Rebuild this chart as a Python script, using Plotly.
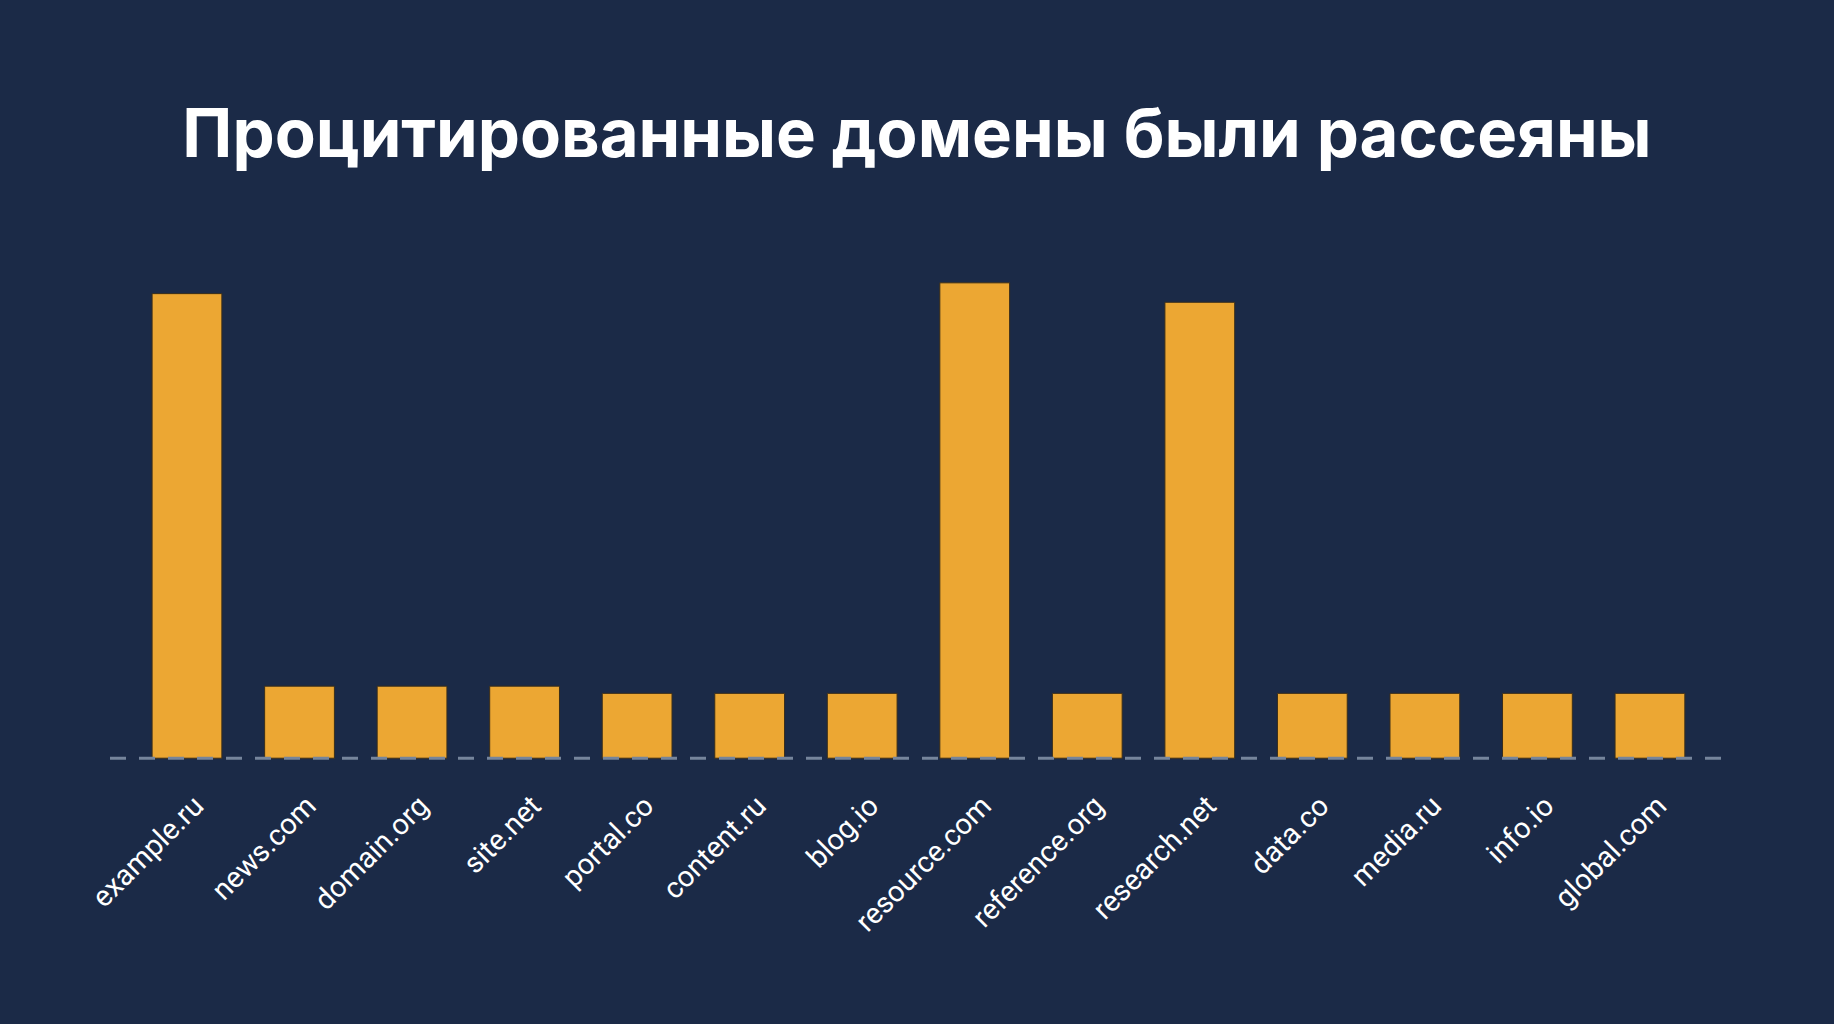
import plotly.graph_objects as go

# domains and how often each one was cited
domains = ["example.ru", "news.com", "domain.org", "site.net", "portal.co",
           "content.ru", "blog.io", "resource.com", "reference.org",
           "research.net", "data.co", "media.ru", "info.io", "global.com"]
citations = [64.5, 10, 10, 10, 9, 9, 9, 66, 9, 63.3, 9, 9, 9, 9]

title = "Процитированные домены были рассеяны"

bg = "#1b2a47"
bar_color = "#eca733"

fig = go.Figure(go.Bar(
    x=domains,
    y=citations,
    marker=dict(color=bar_color, line=dict(color="#3a2e1a", width=1)),
    width=0.62,
    hoverinfo="x+y",
))

# dashed baseline drawn over the foot of the bars
fig.add_shape(type="line", xref="paper", yref="y", x0=0, x1=1, y0=0, y1=0,
              line=dict(color="#76859c", width=3, dash="16px,13px"), layer="above")

# small negative start so the baseline isn't clipped by the plot area
ymin = -1.5
fig.update_layout(
    width=1834, height=1024,
    paper_bgcolor=bg, plot_bgcolor=bg,
    margin=dict(l=110, r=110, t=200, b=255),
    showlegend=False,
    title=dict(text="<b>" + title + "</b>", x=0.5, xanchor="center",
               y=1 - 134 / 1024, yanchor="middle",
               font=dict(family="Inter", size=67, color="white")),
    xaxis=dict(range=[-0.684, 13.658], showgrid=False, zeroline=False,
               showline=False, tickangle=-45, ticks="", ticklabelstandoff=13,
               ticklabelshift=8,
               tickfont=dict(family="Roboto", size=29, color="white")),
    yaxis=dict(range=[ymin, 77.5], visible=False, fixedrange=True),
)

# page body has a default margin; drop it so the chart sits at the corner
fig.write_html("out.html", config={"displayModeBar": False},
               post_script="document.body.style.margin='0';")
